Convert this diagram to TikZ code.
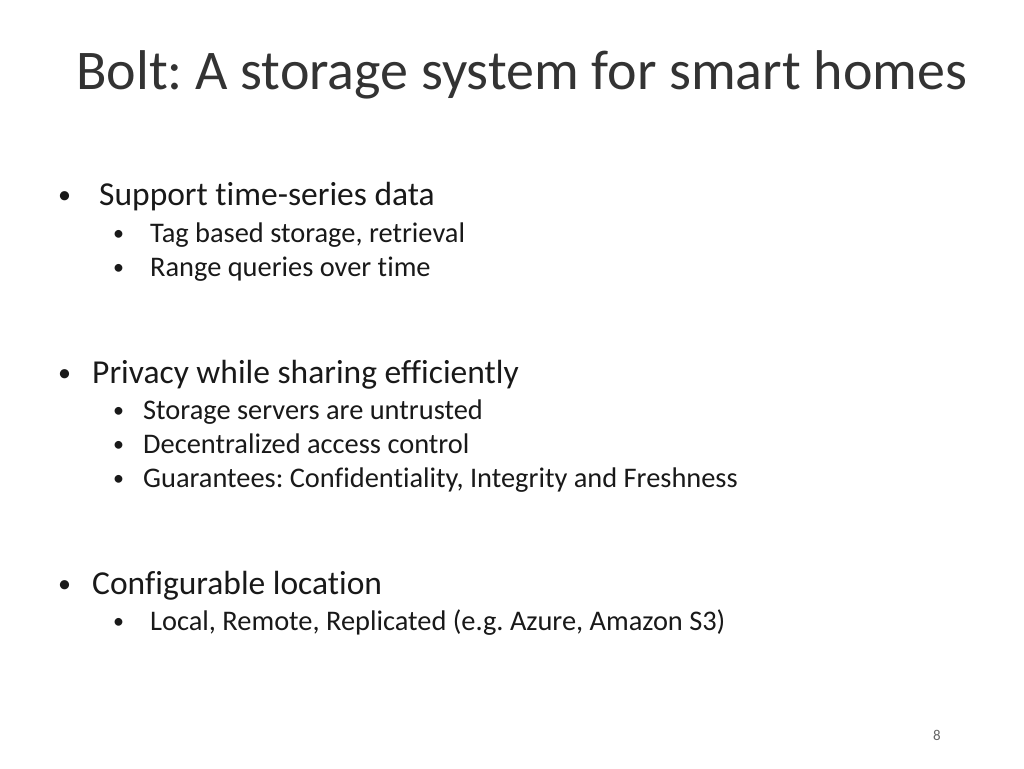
\documentclass[tikz,border=0pt]{standalone}
\usepackage{fontspec}
\setmainfont[Ligatures={NoCommon}]{Carlito}
\frenchspacing
\tikzset{
  txt/.style={anchor=base west, inner sep=0pt, text=black!90},
  lvlone/.style={txt, font=\fontsize{33.5}{38}\selectfont},
  lvltwo/.style={txt, font=\fontsize{28.4}{32}\selectfont},
  dotone/.style={txt, font=\fontsize{26}{30}\selectfont},
  dottwo/.style={txt, font=\fontsize{22}{26}\selectfont},
}
\begin{document}
\begin{tikzpicture}[x=1pt,y=-1pt]
\useasboundingbox[fill=white] (0,0) rectangle (1024,768);

\node[txt, font=\fontsize{56}{64}\selectfont, text=black!80] (title) at (76,89) {Bolt: A storage system for smart homes};

% first group
\node[dotone] (b1) at (58,203) {\textbullet};
\node[lvlone] (support) at (99,205) {Support time-series data};
\node[dottwo] (b11) at (113,240) {\textbullet};
\node[lvltwo] (tag) at (150,242) {Tag based storage, retrieval};
\node[dottwo] (b12) at (113,274) {\textbullet};
\node[lvltwo] (range) at (150,276) {Range queries over time};

% second group
\node[dotone] (b2) at (58,381) {\textbullet};
\node[lvlone] (privacy) at (92,383) {Privacy while sharing efficiently};
\node[dottwo] (b21) at (113,417) {\textbullet};
\node[lvltwo] (untrusted) at (143,419) {Storage servers are untrusted};
\node[dottwo] (b22) at (113,451) {\textbullet};
\node[lvltwo] (access) at (143,453) {Decentralized access control};
\node[dottwo] (b23) at (113,485) {\textbullet};
\node[lvltwo] (guarantees) at (143,487) {Guarantees: Confidentiality, Integrity and Freshness};

% third group
\node[dotone] (b3) at (58,592) {\textbullet};
\node[lvlone] (config) at (92,594) {Configurable location};
\node[dottwo] (b31) at (113,628) {\textbullet};
\node[lvltwo] (local) at (150,630) {Local, Remote, Replicated (e.g. Azure, Amazon S3)};

\node[txt, font=\fontsize{15}{18}\selectfont, text=black!60] (page) at (933,740) {8};
\end{tikzpicture}
\end{document}
